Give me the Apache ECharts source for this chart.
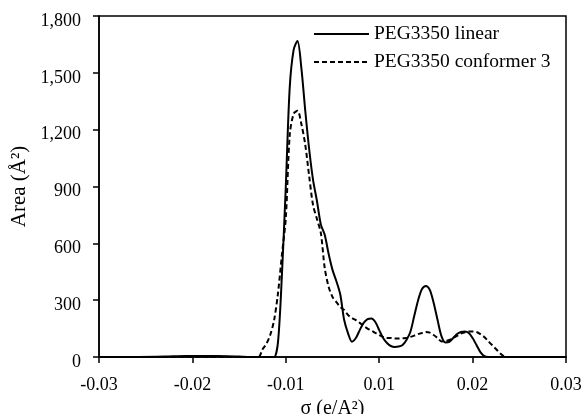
<!DOCTYPE html>
<html><head><meta charset="utf-8">
<script src="https://cdn.jsdelivr.net/npm/echarts@6/dist/echarts.min.js"></script>
<style>html,body{margin:0;padding:0;background:#fff}#c{width:583px;height:414px}</style>
</head><body><div id="c"></div>
<script>
const sigma = [-0.03, -0.025, -0.0215, -0.019, -0.016, -0.0135, -0.012, -0.0105,
  -0.0095, -0.009, -0.0085, -0.008, -0.0075, -0.007, -0.0065, -0.006, -0.0055, -0.005,
  -0.0045, -0.004, -0.0035, -0.003, -0.0025, -0.002, -0.0015, -0.001, -0.0005, 0,
  0.0005, 0.001, 0.0015, 0.002, 0.0025, 0.003, 0.0035, 0.004, 0.0045, 0.005,
  0.0055, 0.006, 0.0065, 0.007, 0.0075, 0.008, 0.0085, 0.009, 0.0095, 0.010,
  0.0105, 0.011, 0.0115, 0.012, 0.0125, 0.013, 0.0135, 0.014, 0.0145, 0.015,
  0.0155, 0.016, 0.0165, 0.017, 0.0175, 0.018, 0.0185, 0.019, 0.0195, 0.020,
  0.0205, 0.021, 0.0215, 0.022, 0.0225, 0.025, 0.03];
const linearArea = [0, 0, 2, 5, 5, 4, 2, 0,
  0, 0, 0, 0, 0, 80, 433, 900, 1420, 1620,
  1668, 1525, 1300, 1098, 935, 824, 700, 645, 545, 460,
  400, 330, 195, 125, 81, 100, 142, 180, 200, 203,
  185, 142, 100, 74, 58, 53, 55, 63, 90, 132,
  216, 300, 359, 375, 354, 285, 195, 110, 77, 80,
  100, 121, 132, 134, 127, 100, 63, 26, 5, 0,
  0, 0, 0, 0, 0, 0, 0];
const conformerArea = [0, 0, 0, 0, 0, 0, 0, 0,
  0, 40, 69, 116, 195, 338, 539, 734, 1170, 1283,
  1300, 1230, 1120, 956, 802, 729, 655, 470, 371, 317,
  290, 264, 248, 222, 206, 195, 180, 164, 150, 140,
  127, 116, 106, 100, 100, 98, 98, 99, 100, 106,
  113, 121, 127, 132, 129, 116, 100, 82, 84, 90,
  100, 111, 124, 130, 134, 135, 132, 121, 106, 84,
  63, 42, 21, 5, 0, 0, 0];
const xTicks = [-0.03, -0.018, -0.006, 0.006, 0.018, 0.03];
const seriesNames = ['PEG3350 linear', 'PEG3350 conformer 3'];

const FONT = "'Liberation Serif', 'Times New Roman', serif";
const pairs = vals => sigma.map((s, i) => [s, vals[i]]);

const chart = echarts.init(document.getElementById('c'));
chart.setOption({
  animation: false,
  backgroundColor: '#fff',
  grid: { left: 99, right: 17, top: 16, bottom: 57, outerBoundsMode: 'none', containLabel: false,
    show: true, borderColor: '#000', borderWidth: 1.5, backgroundColor: 'transparent' },
  legend: {
    data: seriesNames, orient: 'vertical', left: 313, top: 24, padding: 0,
    itemWidth: 55, itemHeight: 14, itemGap: 8,
    itemStyle: { opacity: 0 },
    textStyle: { fontFamily: FONT, fontSize: 19.5, color: '#000' }
  },
  xAxis: {
    type: 'value', min: -0.03, max: 0.03,
    name: 'σ (e/A²)', nameLocation: 'middle', nameGap: 36,
    nameTextStyle: { fontFamily: FONT, fontSize: 20, color: '#000' },
    axisLine: { lineStyle: { color: '#000', width: 1.5 } },
    axisTick: { show: true, length: 6, customValues: xTicks, lineStyle: { color: '#000', width: 1.5 } },
    axisLabel: { customValues: xTicks, margin: 19, fontFamily: FONT, fontSize: 18, color: '#000',
      formatter: v => v.toFixed(2) },
    splitLine: { show: false }
  },
  yAxis: {
    type: 'value', min: 0, max: 1800, interval: 300,
    name: 'Area (Å²)', nameLocation: 'middle', nameGap: 57,
    nameTextStyle: { fontFamily: FONT, fontSize: 21, color: '#000' },
    axisLine: { show: true, onZero: false, lineStyle: { color: '#000', width: 1.5 } },
    axisTick: { show: true, length: 6, lineStyle: { color: '#000', width: 1.5 } },
    axisLabel: { margin: 18, verticalAlign: 'top', lineHeight: 10, fontFamily: FONT, fontSize: 18, color: '#000',
      formatter: v => v.toLocaleString('en-US') },
    splitLine: { show: false }
  },
  series: [
    { name: seriesNames[0], type: 'line', data: pairs(linearArea), symbol: 'none', smooth: 0.3,
      lineStyle: { color: '#000', width: 2, type: 'solid' }, itemStyle: { color: '#000' } },
    { name: seriesNames[1], type: 'line', data: pairs(conformerArea), symbol: 'none', smooth: 0.3,
      lineStyle: { color: '#000', width: 2, type: [5, 3] }, itemStyle: { color: '#000' } }
  ]
});
</script></body></html>
